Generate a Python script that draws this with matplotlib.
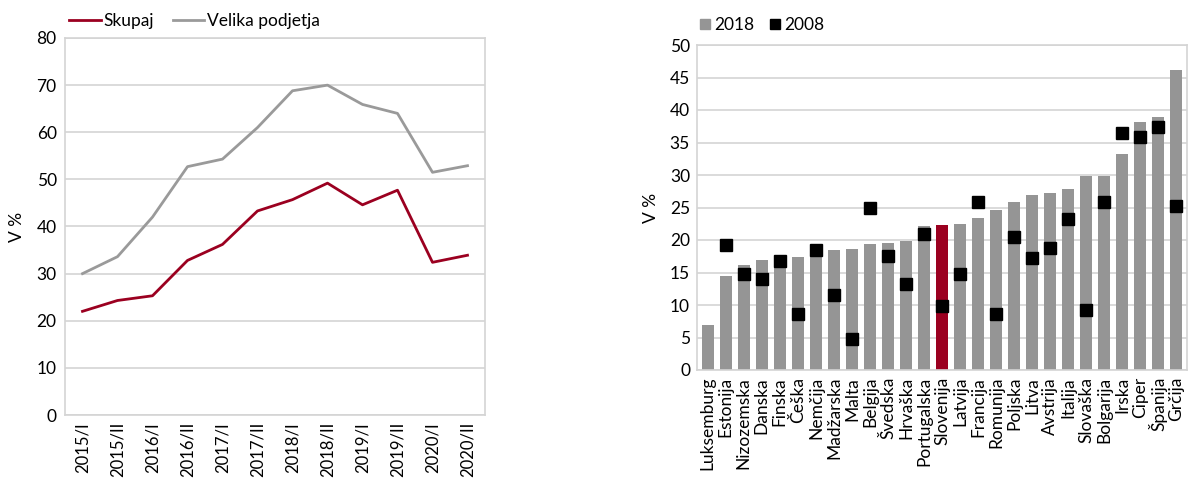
import matplotlib
matplotlib.use("Agg")
import matplotlib.pyplot as plt
from matplotlib.lines import Line2D
import numpy as np

plt.rcParams['font.family'] = ['Lato', 'DejaVu Sans']
plt.rcParams['font.size'] = 12.5

# Left chart data
periods = ["2015/I", "2015/II", "2016/I", "2016/II", "2017/I", "2017/II",
           "2018/I", "2018/II", "2019/I", "2019/II", "2020/I", "2020/II"]
skupaj = [22.0, 24.3, 25.3, 32.8, 36.2, 43.3, 45.7, 49.2, 44.6, 47.7, 32.4, 33.9]
velika = [30.0, 33.6, 42.0, 52.7, 54.3, 61.0, 68.8, 70.0, 65.9, 64.0, 51.5, 52.9]

# Right chart data
countries = ["Luksemburg", "Estonija", "Nizozemska", "Danska", "Finska", "Češka",
             "Nemčija", "Madžarska", "Malta", "Belgija", "Švedska", "Hrvaška",
             "Portugalska", "Slovenija", "Latvija", "Francija", "Romunija", "Poljska",
             "Litva", "Avstrija", "Italija", "Slovaška", "Bolgarija", "Irska",
             "Ciper", "Španija", "Grčija"]
v2018 = [7.0, 14.5, 16.1, 16.9, 17.1, 17.4, 18.2, 18.5, 18.6, 19.4, 19.5, 19.9,
         22.2, 22.3, 22.5, 23.4, 24.6, 25.9, 26.9, 27.3, 27.9, 29.8, 29.8, 33.2,
         38.1, 39.0, 46.1]
v2008 = [np.nan, 19.2, 14.7, 14.0, 16.8, 8.6, 18.4, 11.5, 4.7, 24.9, 17.5, 13.3,
         21.0, 9.8, 14.7, 25.8, 8.6, 20.5, 17.2, 18.8, 23.3, 9.3, 25.9, 36.4,
         35.9, 37.4, 25.2]
highlight = "Slovenija"

RED = "#9b0020"
GRAY_LINE = "#9a9a9a"
GRAY_BAR = "#959595"
GRID = "#d4d4d4"

fig = plt.figure(figsize=(11.9, 4.78), dpi=100)

# ---------- Left chart ----------
ax1 = fig.add_axes([65/1190, 1-415/478, 420/1190, 377/478])
x = np.arange(len(periods))
ax1.plot(x, skupaj, color=RED, lw=2.0, label="Skupaj")
ax1.plot(x, velika, color=GRAY_LINE, lw=2.0, label="Velika podjetja")
ax1.set_xlim(-0.5, len(periods) - 0.5)
ax1.set_ylim(0, 80)
ax1.set_yticks(range(0, 81, 10))
ax1.set_xticks(x)
ax1.set_xticklabels(periods, rotation=90, fontsize=12)
ax1.grid(axis='y', color=GRID, lw=1.2)
ax1.set_axisbelow(True)
for s in ax1.spines.values():
    s.set_color(GRID)
    s.set_linewidth(1.2)
ax1.tick_params(axis='y', length=0, pad=6)
ax1.tick_params(axis='x', length=0, pad=5)
ax1.set_ylabel("V %", labelpad=8)
ax1.legend(loc='lower left', bbox_to_anchor=(-0.01, 1.0), ncol=2, frameon=False,
           handlelength=1.8, handletextpad=0.15, columnspacing=1.1, borderaxespad=0.1)

# ---------- Right chart ----------
ax2 = fig.add_axes([697/1190, 1-370/478, 490/1190, 325/478])
xc = np.arange(len(countries))
colors = [RED if c == highlight else GRAY_BAR for c in countries]
ax2.bar(xc, v2018, width=0.7, color=colors, zorder=2)
ax2.plot(xc, v2008, linestyle='none', marker='s', markersize=8, color='black', zorder=3)
ax2.set_xlim(-0.6, len(countries) - 0.4)
ax2.set_ylim(0, 50)
ax2.set_yticks(range(0, 51, 5))
ax2.set_xticks(xc)
ax2.set_xticklabels(countries, rotation=90)
ax2.grid(axis='y', color=GRID, lw=1.2, zorder=0)
ax2.set_axisbelow(True)
for s in ax2.spines.values():
    s.set_color(GRID)
    s.set_linewidth(1.2)
ax2.tick_params(length=0, pad=5)
ax2.set_ylabel("V %", labelpad=8)
handles = [Line2D([], [], linestyle='none', marker='s', markersize=7, color=GRAY_BAR),
           Line2D([], [], linestyle='none', marker='s', markersize=7, color='black')]
ax2.legend(handles, ["2018", "2008"], loc='lower left', bbox_to_anchor=(-0.02, 1.0),
           ncol=2, frameon=False, handlelength=0.6, handletextpad=0.25,
           columnspacing=0.9, borderaxespad=0.3)

fig.savefig("out.png", dpi=100)
